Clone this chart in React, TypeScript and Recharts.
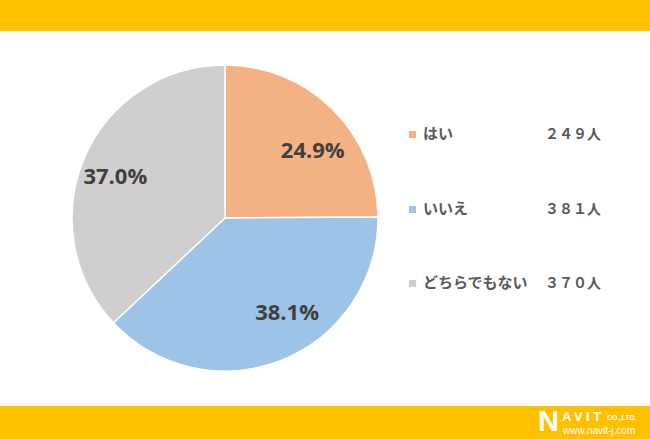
import React from 'react';
import { PieChart, Pie, Cell, Legend } from 'recharts';

const CATEGORIES = ['はい', 'いいえ', 'どちらでもない'];
const COUNTS = [249, 381, 370];
const COUNT_LABELS = ['２４９人', '３８１人', '３７０人'];
const PERCENT_LABELS = ['24.9%', '38.1%', '37.0%'];

const COLORS = ['#F4B183', '#9DC3E6', '#D0CECE'];
const BAND = '#FFC000';
const TEXT = '#404040';
const FONT = '"Noto Sans CJK JP", "Noto Sans", sans-serif';

// label placement tweaks (Excel "best fit" doesn't sit exactly on the mid angle)
const LABEL_ANGLE_SHIFT = [-7, 12, 2];
const LABEL_RADIUS = [0.73, 0.73, 0.77];

const data = CATEGORIES.map((name, i) => ({
  name,
  value: COUNTS[i],
  pct: PERCENT_LABELS[i],
  count: COUNT_LABELS[i],
}));

const RADIAN = Math.PI / 180;

function renderLabel({ cx, cy, midAngle, outerRadius, index }: any) {
  const r = outerRadius * LABEL_RADIUS[index];
  const a = (midAngle + LABEL_ANGLE_SHIFT[index]) * RADIAN;
  const x = cx + r * Math.cos(-a);
  const y = cy + r * Math.sin(-a);
  return (
    <text
      x={x}
      y={y}
      fill={TEXT}
      textAnchor="middle"
      dominantBaseline="central"
      fontSize={22}
      fontWeight={700}
      fontFamily="'Open Sans', sans-serif"
    >
      {PERCENT_LABELS[index]}
    </text>
  );
}

function LegendBox() {
  return (
    <div style={{ fontFamily: FONT, color: '#595959', fontWeight: 700 }}>
      {data.map((d, i) => (
        <div key={d.name} style={{ position: 'relative', height: 74.5 }}>
          <span
            style={{
              position: 'absolute', left: 0, top: 2, width: 7, height: 7,
              background: COLORS[i],
            }}
          />
          <span style={{ position: 'absolute', left: 14, top: -7, fontSize: 15 }}>{d.name}</span>
          <span style={{ position: 'absolute', left: 136, top: -6, fontSize: 14 }}>{d.count}</span>
        </div>
      ))}
    </div>
  );
}

function NavitLogo() {
  return (
    <div style={{ position: 'absolute', left: 538, top: 409, color: '#fff', fontFamily: 'Arial, "Liberation Sans", sans-serif', fontWeight: 700 }}>
      <span style={{ position: 'absolute', left: 0, top: 0, fontSize: 29, lineHeight: '24px' }}>N</span>
      <span style={{ position: 'absolute', left: 24, top: 2, fontSize: 13, lineHeight: '11px', letterSpacing: 3.5 }}>AVIT</span>
      <span style={{ position: 'absolute', left: 69, top: 5, fontSize: 7, lineHeight: '7px', whiteSpace: 'nowrap' }}>CO.,LTD.</span>
      <span style={{ position: 'absolute', left: 25, top: 17, fontSize: 10, lineHeight: '9px', fontWeight: 400, whiteSpace: 'nowrap' }}>www.navit-j.com</span>
    </div>
  );
}

export default function App() {
  return (
    <div style={{ position: 'absolute', left: 0, top: 0, width: 650, height: 439, background: '#fff', overflow: 'hidden' }}>
      <div style={{ position: 'absolute', left: 0, top: 0, width: 650, height: 31, background: BAND }} />
      <div style={{ position: 'absolute', left: 0, top: 406, width: 650, height: 33, background: BAND }} />
      <NavitLogo />
      <div style={{ position: 'absolute', left: 0, top: 31 }}>
        <PieChart width={650} height={375} margin={{ top: 0, right: 0, bottom: 0, left: 0 }}>
          <Pie
            data={data}
            dataKey="value"
            nameKey="name"
            cx={225}
            cy={187}
            outerRadius={153}
            startAngle={90}
            endAngle={-270}
            stroke="#fff"
            strokeWidth={1.5}
            label={renderLabel}
            labelLine={false}
            isAnimationActive={false}
          >
            {data.map((d, i) => (
              <Cell key={d.name} fill={COLORS[i]} />
            ))}
          </Pie>
          <Legend
            content={() => <LegendBox />}
            wrapperStyle={{ position: 'absolute', left: 409, top: 98, width: 220 }}
          />
        </PieChart>
      </div>
    </div>
  );
}
